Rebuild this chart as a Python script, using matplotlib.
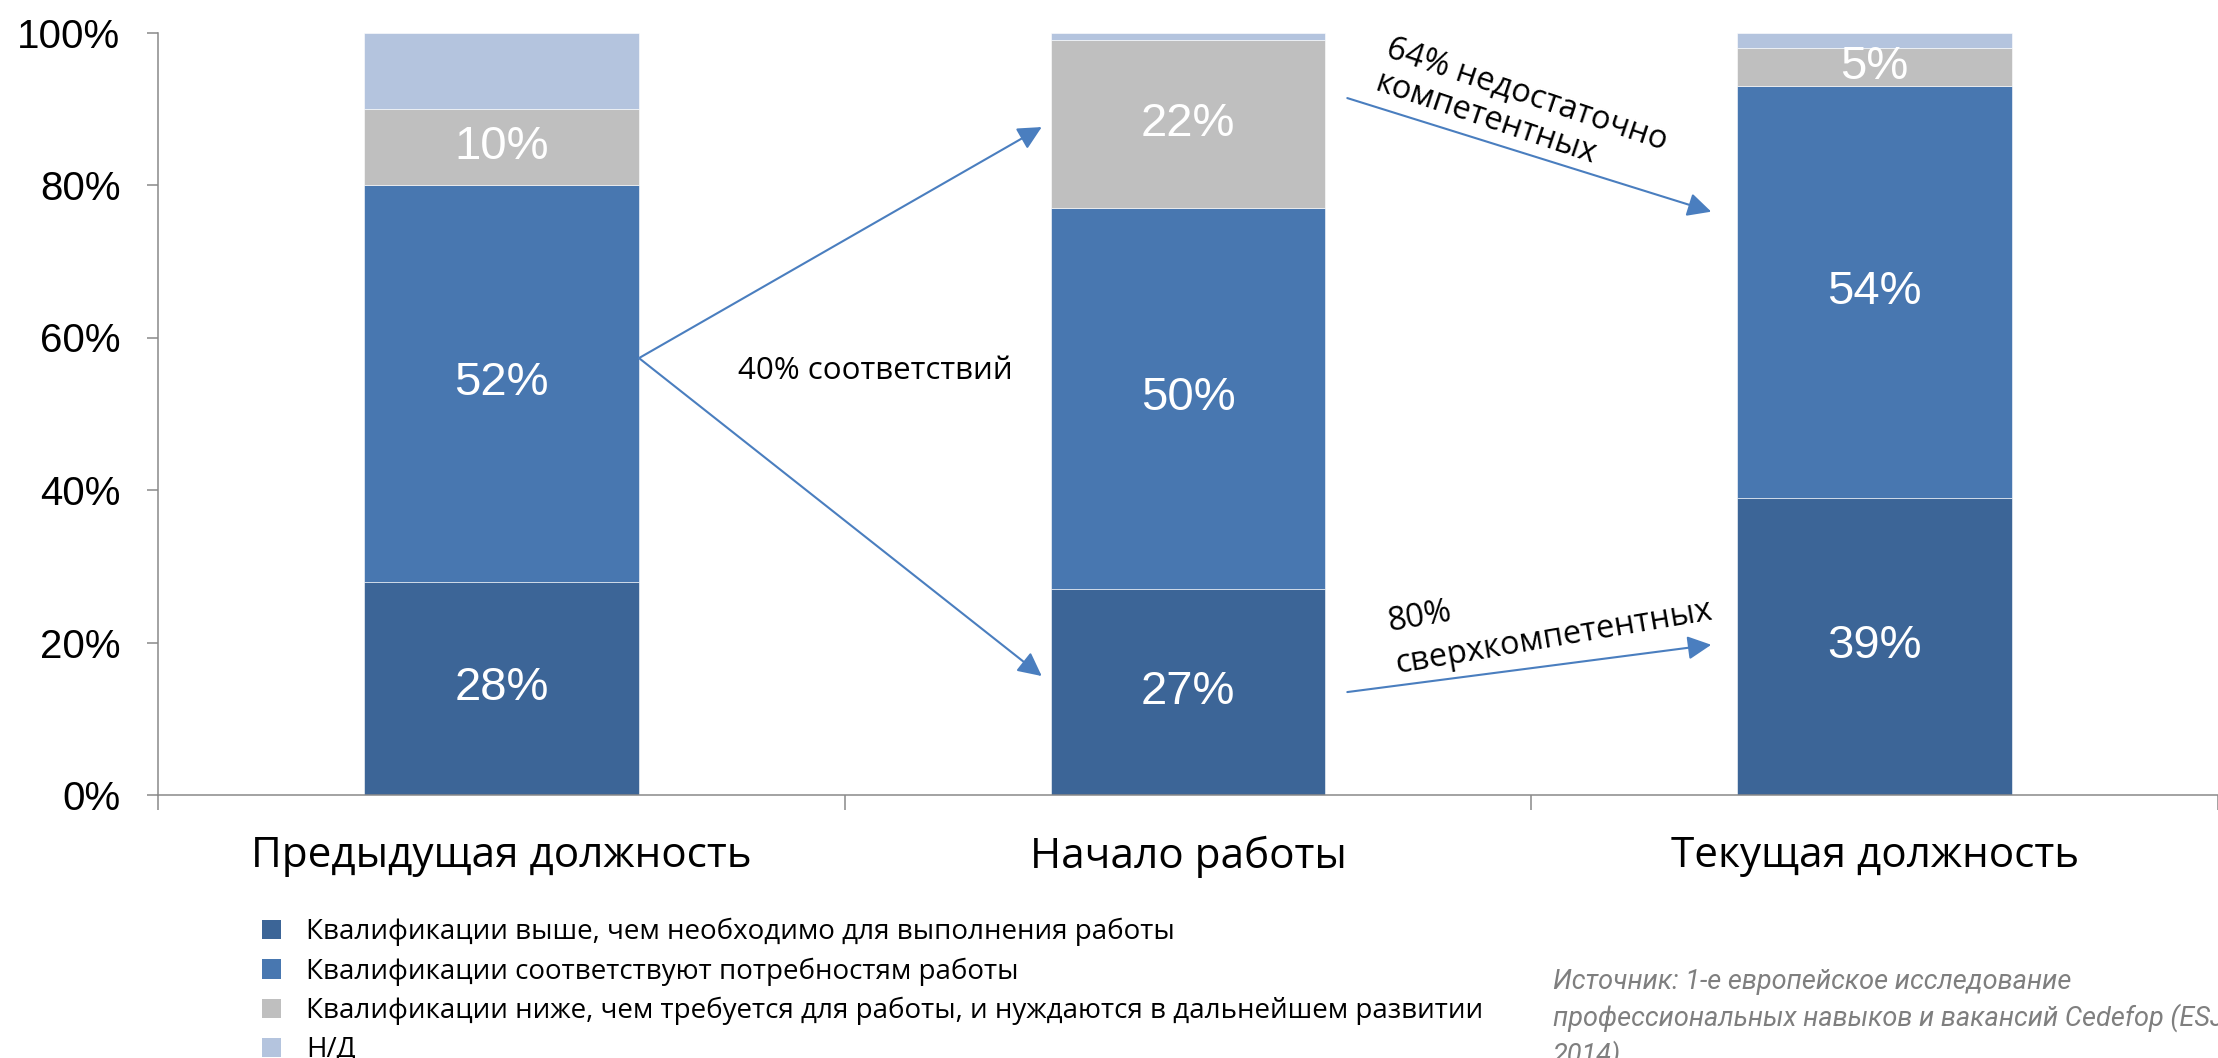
import matplotlib.pyplot as plt
from matplotlib.patches import Patch

# Data (percent shares per position)
categories = ['Предыдущая должность', 'Начало работы', 'Текущая должность']
over_qualified = [28, 27, 39]
matched = [52, 50, 54]
under_qualified = [10, 22, 5]
not_available = [10, 1, 2]

series_names = [
    'Квалификации выше, чем необходимо для выполнения работы',
    'Квалификации соответствуют потребностям работы',
    'Квалификации ниже, чем требуется для работы, и нуждаются в дальнейшем развитии',
    'Н/Д',
]
colors = ['#3C6597', '#4877B0', '#BFBFBF', '#B4C4DE']
arrow_color = '#4A7EBF'

sans = ['Open Sans', 'DejaVu Sans']
arial = ['Liberation Sans', 'DejaVu Sans']

fig = plt.figure(figsize=(22.18, 10.58), dpi=100)
ax = fig.add_axes([158 / 2218, 1 - 795 / 1058, 1 - 158 / 2218, (795 - 32.5) / 1058])

x = list(range(len(categories)))
series = [over_qualified, matched, under_qualified, not_available]
bottom = [0, 0, 0]
for vals, col in zip(series, colors):
    ax.bar(x, vals, width=0.4, bottom=bottom, color=col, edgecolor='white', linewidth=0.4)
    bottom = [b + v for b, v in zip(bottom, vals)]

# white value labels (N/D left unlabeled)
bottom = [0, 0, 0]
for vals in series[:3]:
    for xi, b, v in zip(x, bottom, vals):
        ax.text(xi, b + v / 2, f'{v}%', ha='center', va='center', color='white',
                fontsize=34, family=arial)
    bottom = [b + v for b, v in zip(bottom, vals)]

ax.set_ylim(0, 100)
ax.set_xlim(-0.5, 2.481)
ax.set_yticks([0, 20, 40, 60, 80, 100])
ax.set_yticklabels([f'{t}%' for t in [0, 20, 40, 60, 80, 100]], family=arial, fontsize=29)
ax.tick_params(axis='y', direction='out', length=8, width=1.1, color='#898989', pad=19)

ax.set_xticks([-0.5, 0.5, 1.5, 2.5])
ax.set_xticklabels([])
ax.tick_params(axis='x', which='major', direction='out', length=11, width=1.1, color='#898989')
ax.set_xticks(x, minor=True)
ax.set_xticklabels(categories, minor=True, family=sans, fontsize=30.4)
ax.tick_params(axis='x', which='minor', length=0, pad=29)

for s in ['top', 'right']:
    ax.spines[s].set_visible(False)
for s in ['left', 'bottom']:
    ax.spines[s].set_color('#898989')
    ax.spines[s].set_linewidth(1.1)

# arrows between bars
arrows = [
    ((0.2005, 57.3), (0.787, 87.6)),
    ((0.2005, 57.3), (0.787, 15.6)),
    ((1.232, 91.4), (1.762, 76.5)),
    ((1.232, 13.5), (1.762, 19.7)),
]
for start, end in arrows:
    ax.annotate('', xy=end, xytext=start,
                arrowprops=dict(arrowstyle='-|>', color=arrow_color, lw=1.5,
                                mutation_scale=36, shrinkA=0, shrinkB=0))

ax.text(0.545, 55.6, '40% соответствий', ha='center', va='center', fontsize=22.5, family=sans)
ax.text(1.485, 89.6, '64% недостаточно\nкомпетентных', ha='center', va='center',
        rotation=-18.6, rotation_mode='anchor', multialignment='left', fontsize=23.5,
        family=sans, linespacing=1.15)
ax.text(1.527, 23.4, '80%\nсверхкомпетентных', ha='center', va='center',
        rotation=9.7, rotation_mode='anchor', multialignment='left', fontsize=23.5,
        family=sans, linespacing=1.4)

handles = [Patch(facecolor=c, edgecolor='none') for c in colors]
fig.legend(handles, series_names, loc='upper left', bbox_to_anchor=(262 / 2218, 1 - 918 / 1058),
           frameon=False, prop={'family': sans, 'size': 20}, handlelength=0.7, handleheight=0.7,
           handletextpad=0.9, labelspacing=0.4, borderpad=0, borderaxespad=0)

fig.text(1553 / 2218, 1 - 969 / 1058,
         'Источник: 1-е европейское исследование\n'
         'профессиональных навыков и вакансий Cedefop (ESJS,\n2014)',
         ha='left', va='top', fontsize=19.5, color='#7F7F7F', style='italic',
         family=['Roboto', 'DejaVu Sans'], linespacing=1.38)

fig.savefig('out.png', dpi=100)
